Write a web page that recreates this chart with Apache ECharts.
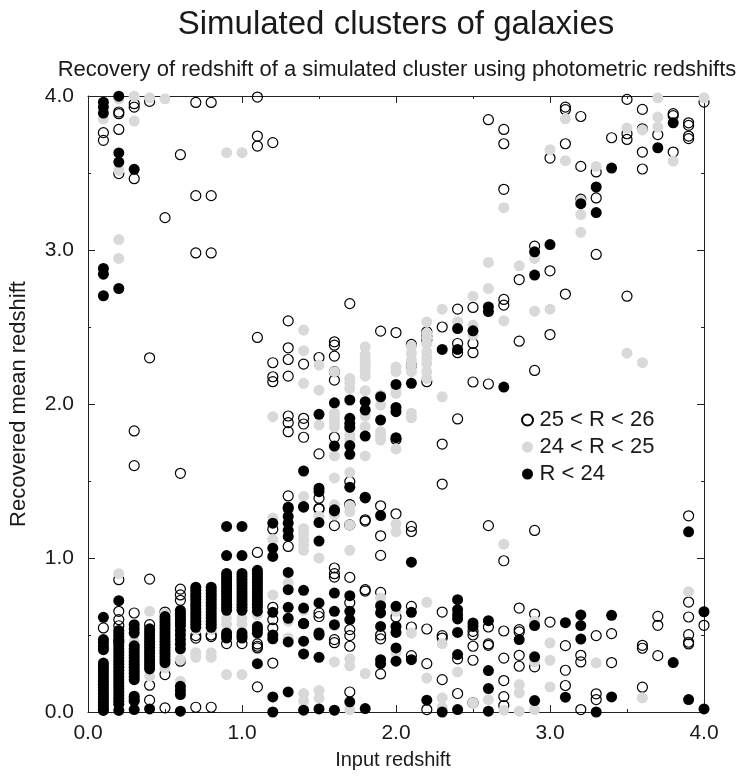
<!DOCTYPE html>
<html>
<head>
<meta charset="utf-8">
<style>
html, body { margin: 0; padding: 0; background: #fff; }
#block1 { width: 738px; height: 777px; }
</style>
<script src="https://cdn.jsdelivr.net/npm/echarts@6/dist/echarts.min.js"></script>
</head>
<body>
<div id="block1"></div>
<script>
// each row: input redshift, then the recovered redshifts in that column
const faint = [
    [0.1, .546, 3.762, 3.712],
    [0.2, .859, .654, .60, .56, .46, 3.896, 3.885, 3.783, 3.496],
    [0.3, .643, 3.95, 3.928, 3.463, 1.825, 1.60],
    [0.4, .863, .567, .174, .077, 3.965, 2.30],
    [0.5, .649, .243, .027, 3.21],
    [0.6, .798, .76, .725, .33, 3.619, 1.55],
    [0.7, .496, .48, .031, 3.958, 3.353, 2.981],
    [0.8, .50, .49, .031, 3.958, 3.353, 2.981],
    [0.9, .444],
    [1.0, .444],
    [1.1, 1.036, .442, .427, .416, .163, 3.993, 3.74, 3.675, 2.432],
    [1.2, 1.187, .68, .60, .545, .318, 2.268, 2.177, 2.145, 3.697],
    [1.3, 1.075, 2.54, 2.365, 2.289, 2.181, 1.922, 1.879, 1.82, 1.403],
    [1.4, .574, 2.259, 1.907, 1.87, 1.784],
    [1.5, 1.317, .643, .62, 2.302, 1.676, 1.388, 1.323],
    [1.6, 1.21, .935, .898, .876, .47, .45, 2.404, 2.382, 2.311, 2.21, 2.155, 1.784],
    [1.7, 1.347, 1.215, .874, .71, .535, .496, .427, .13, 2.652, 1.496, 1.345],
    [1.8, 1.248, 1.24, .794, .785],
    [1.9, 1.339, 1.144, 1.017, .777, .50, .475, .247, 2.473],
    [2.0, 1.287, .617, 2.464, 1.77],
    [2.1, 1.205, 1.172, .686, .552, .366, 2.387, 2.25],
    [2.2, .539, .314, .016, 2.469, 2.44, 2.415, 2.145],
    [2.3, .649, .496, .48, .21, 2.5, 1.74, 1.48],
    [2.4, .345, .12, 2.616, 2.393, 2.333, 1.903],
    [2.5, .524, .50, .427, .336, .06, 2.627, 2.393, 2.333, 2.143],
    [2.6, 1.21, .552, .442, .433, 3.846, 2.13],
    [2.7, .526, .35, .204, .10, .042, .982, 3.783, 3.69, 3.394, 2.679, 2.642],
    [2.8, .675, .535, .52, .368, .297, 2.808, 2.408],
    [2.9, 1.179, .636, .293, 3.025, 2.218],
    [3.0, .584, 3.597, 2.865, 2.451],
    [3.1, .431, .271, .172, 3.928, 3.911, 3.69, 2.714],
    [3.2, .368, .325, .016, 3.867, 3.543, 3.33],
    [3.3, .496, .118, .081, 3.507, 3.338, 2.971],
    [3.4, .509, .321, 3.729],
    [3.5, 3.978, 3.755, 3.718, 2.70],
    [3.6, .433, .414, .161, 3.913, 3.787, 3.636, 3.526],
    [3.7, .621, .563, .366, 3.749],
    [3.8, 3.885, 3.872, 3.636],
    [3.9, 1.274, .714, .617, .502, .453, .442, 3.826, 3.809, 3.74, 3.723],
    [4.0, .563, 3.96]
];

const mid = [
    [0.1, 3.852],
    [0.2, .898, 3.98, 3.517, 3.068, 2.945],
    [0.3, .46, 3.999, 3.837],
    [0.4, .654, .232, 3.988],
    [0.5, .64, .286, 3.982],
    [0.6, .34, .20],
    [0.7, .535, .385, .355],
    [0.8, .535, .385, .355],
    [0.9, .61, .57, .243, 3.632],
    [1.0, .61, .57, .243, 3.632],
    [1.1, .63],
    [1.2, 1.259, 1.12, .76, 1.918],
    [1.3, .837, .59, .48],
    [1.4, 1.19, 1.155, 1.12, 1.085, 1.05, .66, .12, .07, 2.48, 2.346, 2.134, 1.40],
    [1.5, 1.27, 1.0, .14, .09, 2.253, 2.09, 1.864],
    [1.6, 1.345, 1.28, .56, .325, .01, 2.21, 1.94, 1.91, 1.88, 1.85, 1.663, 1.52],
    [1.7, 1.30, 1.215, 1.05, .345, .30, .016, 2.166, 2.135, 2.101, 1.80, 1.77, 1.555, 1.34],
    [1.8, .25, 2.371, 2.32, 2.296, 2.27, 2.242, 2.21, 2.181, 2.086, 1.922, 1.853, 1.663],
    [1.9, .74, 2.058, 1.993, 1.82, 1.795, 1.766],
    [2.0, 1.22, 1.17, .654, .387, 2.24, 2.21, 2.10, 2.069, 1.708],
    [2.1, .513, 2.376, 2.33, 2.285, 2.25, 2.21, 1.94, 1.91],
    [2.2, .712, .22, 2.533, 2.46, 2.43, 2.393, 2.339, 2.30, 2.263, 2.21, 2.166],
    [2.3, .444, .092, .03, 2.616, 2.047],
    [2.4, .52, .26, 2.534],
    [2.5, .06, 2.70, 2.512, 2.447],
    [2.6, .08, 2.919, 2.75],
    [2.7, 1.09, .012, 3.275, 2.54],
    [2.8, .178, .124, .005, 2.897],
    [2.9, .59, .325, .016, 2.945, 2.603],
    [3.0, .448, .336, .163, 3.651, 2.616],
    [3.1, 3.852, 3.58],
    [3.2, 3.321, 3.23, 3.115],
    [3.3, .319, 3.543],
    [3.5, 3.792, 2.33],
    [3.6, .092, 3.78, 2.268],
    [3.7, 3.988, 3.863, 3.798],
    [3.8, 3.578],
    [3.9, .781],
    [4.0, 3.988]
];

const bright = [
    [0.1, .615, .47, .45, .425, .405, .318, .30, .28, .26, .24, .22, .20, .18, .16, .14, .12, .10, .08, .06, .04, .02, .01, 3.96, 3.928, 3.889, 2.88, 2.843, 2.703],
    [0.2, .723, .53, .51, .49, .47, .45, .43, .41, .39, .37, .35, .33, .31, .29, .27, .25, .23, .21, .19, .17, .15, .13, .11, .09, .07, .05, .01, 3.999, 3.63, 3.571, 2.75],
    [0.3, .567, .54, .513, .43, .41, .39, .37, .35, .33, .31, .29, .27, .25, .23, .21, .103, .085, .07, .016, 3.524],
    [0.4, .54, .52, .50, .48, .46, .44, .42, .40, .38, .36, .34, .32, .30, .28, .02],
    [0.5, .62, .60, .58, .56, .54, .52, .50, .48, .46, .44, .42, .40, .38, .36, .34, .32],
    [0.6, .66, .64, .62, .60, .58, .56, .53, .50, .47, .44, .41, .167, .14, .113, .005],
    [0.7, .81, .79, .77, .75, .73, .71, .69, .67, .65, .63, .61, .59, .57, .55],
    [0.8, .81, .79, .77, .75, .73, .71, .69, .67, .65, .63, .61, .59, .57, .55],
    [0.9, 1.205, 1.016, .90, .88, .86, .84, .82, .80, .78, .76, .74, .72, .70, .68, .66, .513, .495, .48],
    [1.0, 1.205, 1.016, .90, .88, .86, .84, .82, .80, .78, .76, .74, .72, .70, .68, .66, .513, .495, .48],
    [1.1, .92, .90, .88, .86, .84, .82, .80, .78, .76, .74, .72, .70, .68, .655, .556, .535, .513, .314],
    [1.2, 1.226, 1.064, 1.01, .647, .50, .475, .098, .0],
    [1.3, 1.33, 1.32, 1.27, 1.226, 1.18, 1.14, .906, .794, .68, .608, .455, .13],
    [1.4, 1.33, .79, .675, .574, .46, .377, .012, 1.565, 1.334],
    [1.5, 1.23, 1.11, .708, .513, .50, .355, .02, 1.933, 1.453, 1.431],
    [1.6, 1.306, .772, .654, .567, .012, 2.008, 1.727, 1.313],
    [1.7, .755, .654, .60, .066, 2.026, 1.907, 1.874, 1.848, 1.73, 1.673, 1.46],
    [1.8, 1.39, .022, 2.015, 1.961, 1.792, 1.395],
    [1.9, 1.276, .69, .643, .556, .34, .314, 2.047, 1.896],
    [2.0, .686, .556, .517, .416, .33, 2.127, 1.978, 1.95, 1.781],
    [2.1, .973, .647, .34, 2.134],
    [2.2, .077],
    [2.3, .0, 2.354],
    [2.4, .729, .664, .632, .604, .517, .373, .016, 2.49, 2.354],
    [2.5, .578, .556, 2.475],
    [2.6, .593, .269, .152, .005, 2.63, 2.6],
    [2.7, 2.11],
    [2.8, .47],
    [2.9, .561, .358, .074, 2.988, 2.837],
    [3.0, 3.035],
    [3.1, .58, .096],
    [3.2, .63, .561, .474, 3.301],
    [3.3, .0, 3.409, 3.243],
    [3.4, .628, .098, 3.532],
    [3.7, 3.664],
    [3.8, .321, 3.826],
    [3.9, 1.17, .081],
    [4.0, .651, .02]
];

const seriesNames = ['25 < R < 26', '24 < R < 25', 'R < 24'];
const xTicks = ['0.0', '1.0', '2.0', '3.0', '4.0'];

const chart1 = echarts.init(document.getElementById('block1'));

// rows to [x, y] pairs
function toPoints(rows) {
    return rows.flatMap(row => row.slice(1).map(y => [row[0], y]));
}

const font = 'Liberation Sans';
const ink = '#1a1a1a';

// same frame on every side: long tick at 1.0 steps, short one at 0.5
function frameAxis(position, showLabels, name) {
    return {
        type: 'value',
        position: position,
        min: 0, max: 4, interval: 1,
        name: name,
        nameLocation: 'middle',
        nameTextStyle: {fontFamily: font, fontSize: 20, color: ink},
        axisLine: {onZero: false, lineStyle: {color: '#222', width: 1}},
        axisTick: {inside: true, length: 7, lineStyle: {color: '#222', width: 1}},
        minorTick: {show: true, splitNumber: 2, length: 3, lineStyle: {color: '#222', width: 1}},
        splitLine: {show: false},
        axisLabel: {
            show: showLabels,
            fontFamily: font,
            fontSize: 21,
            color: ink,
            margin: 11,
            showMinLabel: true,
            showMaxLabel: true,
            formatter: v => xTicks[v]
        }
    };
}

const xBottom = frameAxis('bottom', true, 'Input redshift');
xBottom.nameGap = 38;
xBottom.nameTextStyle.padding = [0, 6, 0, 0];
const yLeft = frameAxis('left', true, 'Recovered mean redshift');
yLeft.nameGap = 58;
yLeft.nameRotate = 90;
yLeft.nameTextStyle.fontSize = 22;
yLeft.axisLabel.margin = 14;

const option1 = {
    animation: false,
    backgroundColor: '#fff',
    title: [{
        text: 'Simulated clusters of galaxies',
        left: 391, top: 3, textAlign: 'center',
        textStyle: {fontFamily: font, fontSize: 33, fontWeight: 'normal', color: ink}
    }, {
        text: 'Recovery of redshift of a simulated cluster using photometric redshifts',
        left: 392, top: 54, textAlign: 'center',
        textStyle: {fontFamily: font, fontSize: 22, fontWeight: 'normal', color: ink}
    }],
    grid: {left: 86, right: 34, top: 96, bottom: 65},
    xAxis: [xBottom, frameAxis('top', false)],
    yAxis: [yLeft, frameAxis('right', false)],
    legend: {
        orient: 'vertical',
        left: 516, top: 404,
        itemWidth: 14, itemHeight: 11,
        itemGap: 5,
        icon: 'circle',
        data: seriesNames,
        textStyle: {fontFamily: font, fontSize: 22, lineHeight: 22, color: ink, padding: [0, 0, 0, 0]}
    },
    series: [{
        name: seriesNames[0],
        type: 'scatter',
        clip: false,
        symbolSize: 10,
        itemStyle: {color: 'rgba(255,255,255,0)', borderColor: '#000', borderWidth: 1.2, opacity: 1},
        data: toPoints(faint)
    }, {
        name: seriesNames[1],
        type: 'scatter',
        clip: false,
        symbolSize: 11,
        itemStyle: {color: '#d9d9d9', opacity: 1},
        data: toPoints(mid)
    }, {
        name: seriesNames[2],
        type: 'scatter',
        clip: false,
        symbolSize: 11,
        itemStyle: {color: '#000', opacity: 1},
        data: toPoints(bright)
    }]
};

chart1.setOption(option1);
</script>
</body>
</html>
